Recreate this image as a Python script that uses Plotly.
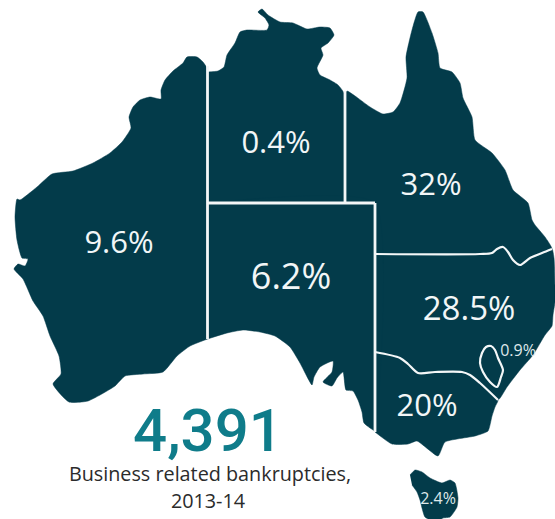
import plotly.graph_objects as go

# Region outlines (x right / y down)
WA_X = [207.5,207,203,197,187,183,173,165,161,161,150,140,133,129,131,122,110,93,73,52,37,20,17,15,17,22,28,25,18,14,23,33,43,50,59,61,53,69,88,115,125,143,163,177,190,207.5]
WA_Y = [70,68,62,57,57,63,71,80,90,99,97,100,107,117,128,142,153,163,171,174,187,200,199,217,240,258,259,266,264,269,279,301,316,336,356,374,384,402,401,386,376,374,372,356,346,339]
NT_X = [207.5,218,224,227,235,240,247,267,269,265,258,262,268,280,293,307,320,330,334,328,321,323,317,320,330,338,345,345,207.5]
NT_Y = [72,71,67,55,43,32,30,30,25,18,12,9,15,22,23,29,27,28,35,43,48,55,68,75,80,85,95,203,203]
QLD_X = [345,347,370,383,393,400,407,406,412,418,423,432,438,440,452,460,463,472,475,492,505,513,528,532,535,545,552,542,530,520,513,508,503,497,492,375,375,345]
QLD_Y = [95,91,107,114,112,103,78,57,30,12,12,33,53,68,72,83,98,117,140,153,170,190,203,220,225,237,249,253,258,265,260,252,247,249,253,254,203,203]
NSW_X = [375,492,497,503,508,513,520,530,542,552,554,555,555,553,552,545,533,520,507,498,480,470,462,435,418,408,400,375]
NSW_Y = [254,253,249,247,252,260,265,258,253,249,258,285,302,315,326,335,355,370,387,400,383,375,372,372,373,364,358,352]
ACT_X = [486,491,495,498,503,501,497,490,483,480,482,486]
ACT_Y = [347,346,350,358,370,377,387,382,372,363,353,347]
VIC_X = [375,400,408,418,435,462,470,480,498,495,492,488,475,445,438,417,408,392,375]
VIC_Y = [352,358,364,373,372,372,375,383,400,407,416,431,436,442,456,441,444,444,432]
SA_X = [207.5,375,375,373,364,362,358,353,346,343,337,332,323,332,333,320,314,312,300,290,275,260,243,227,207.5]
SA_Y = [203,203,431,430,423,412,400,391,390,372,378,386,382,372,361,367,377,385,363,347,336,332,330,333,339]
TAS_X = [410,415,422,430,442,450,455,458,457,450,443,437,425,420,417,412]
TAS_Y = [475,470,472,478,483,480,483,498,507,517,518,522,517,500,492,485]

REGION_OUTLINES = [(WA_X,WA_Y),(NT_X,NT_Y),(QLD_X,QLD_Y),(NSW_X,NSW_Y),(VIC_X,VIC_Y),(SA_X,SA_Y),(TAS_X,TAS_Y)]

# Internal borders
BORDER_WA_X = [207.5,207.5]; BORDER_WA_Y = [66,339]
BORDER_NT_X = [207.5,375]; BORDER_NT_Y = [203,203]
BORDER_NTQ_X = [345,345]; BORDER_NTQ_Y = [91,203]
BORDER_SA_X = [375,375]; BORDER_SA_Y = [203,432]
BORDER_Q_X = [375,480,492,497,503,508,513,520,530,542,552]; BORDER_Q_Y = [254,254,253,249,247,252,260,265,258,253,249]
BORDER_V_X = VIC_X[:9]; BORDER_V_Y = VIC_Y[:9]
STRAIGHT_BORDERS = [(BORDER_WA_X,BORDER_WA_Y),(BORDER_NT_X,BORDER_NT_Y),(BORDER_NTQ_X,BORDER_NTQ_Y),(BORDER_SA_X,BORDER_SA_Y)]
CURVED_BORDERS = [(BORDER_Q_X,BORDER_Q_Y),(BORDER_V_X,BORDER_V_Y),(ACT_X,ACT_Y)]

# Shares of bankruptcies
BIG_LABELS = ["9.6%","0.4%","32%","6.2%","28.5%","20%"]
BIG_X = [119,276,431,291,469,427]
BIG_Y = [245,145,187,280,312,408]
BIG_SIZES = [31,31,31,36,33,31]
SMALL_LABELS = ["0.9%","2.4%"]
SMALL_X = [518,438]
SMALL_Y = [352,500]

TOTAL = "4,391"
CAPTION = ["Business related bankruptcies,","2013-14"]
CAPTION_X = [210,208]
CAPTION_Y = [476,503]

NAVY = "#033b4a"
fig = go.Figure()
for xs,ys in REGION_OUTLINES:
    fig.add_trace(go.Scatter(x=xs,y=ys,fill="toself",fillcolor=NAVY,mode="lines",line=dict(width=0.5,color=NAVY,shape="spline",smoothing=0.5),hoverinfo="skip"))
for xs,ys in STRAIGHT_BORDERS:
    fig.add_trace(go.Scatter(x=xs,y=ys,mode="lines",line=dict(width=2.8,color="#f4f7f8"),hoverinfo="skip"))
for xs,ys in CURVED_BORDERS:
    fig.add_trace(go.Scatter(x=xs,y=ys,mode="lines",line=dict(width=2.2,color="#f4f7f8",shape="spline",smoothing=0.8),hoverinfo="skip"))
fig.add_trace(go.Scatter(x=BIG_X,y=BIG_Y,text=BIG_LABELS,mode="text",cliponaxis=False,textfont=dict(family="Open Sans",size=BIG_SIZES,weight=500,color="#f2f6f7"),hoverinfo="skip"))
fig.add_trace(go.Scatter(x=SMALL_X,y=SMALL_Y,text=SMALL_LABELS,mode="text",cliponaxis=False,textfont=dict(family="Open Sans",size=16,color="#dfe8ea"),hoverinfo="skip"))
fig.add_trace(go.Scatter(x=[208],y=[436],text=[TOTAL],mode="text",cliponaxis=False,textfont=dict(family="Roboto",size=60,weight=500,color="#0f7c8a"),hoverinfo="skip"))
fig.add_trace(go.Scatter(x=CAPTION_X,y=CAPTION_Y,text=CAPTION,mode="text",cliponaxis=False,textfont=dict(family="Open Sans",size=19.8,color="#2b2b2b"),hoverinfo="skip"))
fig.update_layout(width=555,height=519,margin=dict(l=0,r=0,t=0,b=0),showlegend=False,paper_bgcolor="white",plot_bgcolor="white",
    xaxis=dict(range=[0,555],visible=False,fixedrange=True),yaxis=dict(range=[519,0],visible=False,fixedrange=True))
fig.write_html("out.html",config=dict(displayModeBar=False),post_script="document.body.style.margin='0';document.documentElement.style.overflow='hidden';")
